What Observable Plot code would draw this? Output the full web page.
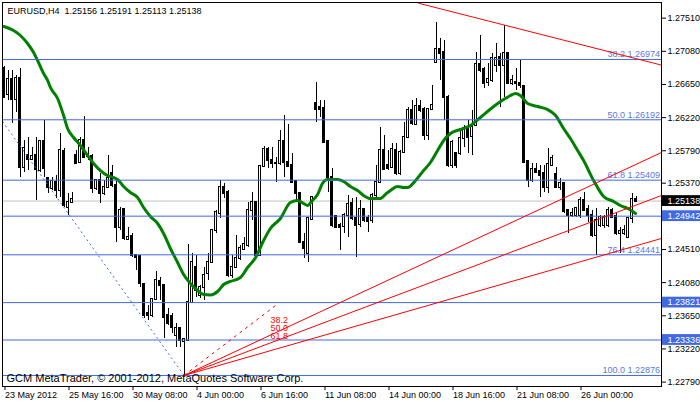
<!DOCTYPE html>
<html><head><meta charset="utf-8">
<script src="https://cdn.jsdelivr.net/npm/d3@7"></script>
<script src="https://cdn.jsdelivr.net/npm/@observablehq/plot@0.6"></script>
<style>html,body{margin:0;padding:0;background:#fff;} #chart svg{display:block;}</style>
</head><body><div id="chart"></div>
<script>
// EURUSD H4 candles, bar index 0 = 23 May 2012 00:00
const open = [1.26853,1.26520,1.26714,1.26451,1.26723,1.25577,1.25729,1.25681,1.25729,1.25534,
1.25910,1.25435,1.25305,1.25383,1.25275,1.25785,1.25059,1.25119,1.25729,1.25642,
1.25923,1.25716,1.25720,1.25296,1.25405,1.25232,1.25318,1.25491,1.25340,1.24799,
1.25024,1.24635,1.24678,1.24432,1.24419,1.24056,1.23675,1.23654,1.23857,1.24095,
1.24043,1.23654,1.23641,1.23394,1.23481,1.23312,1.23330,1.23827,1.24281,1.23913,
1.24021,1.24194,1.24345,1.24756,1.24972,1.25309,1.25253,1.24173,1.24281,1.24389,
1.24505,1.24562,1.25016,1.25115,1.24432,1.25586,1.25807,1.25664,1.25621,1.25621,
1.25910,1.25642,1.25599,1.25392,1.25240,1.24605,1.24462,1.24894,1.26399,1.26347,
1.26334,1.25915,1.25448,1.24938,1.24821,1.24808,1.24951,1.25102,1.24916,1.24834,
1.25024,1.24907,1.24886,1.25210,1.25383,1.25794,1.25599,1.25577,1.25794,1.25491,
1.25772,1.25967,1.26312,1.26131,1.26364,1.26321,1.25988,1.26321,1.26939,1.27099,
1.27060,1.26485,1.25599,1.25750,1.25750,1.25945,1.26075,1.25975,1.26118,1.26909,
1.26840,1.26680,1.26701,1.26896,1.27004,1.26896,1.27056,1.26667,1.26680,1.26658,
1.26624,1.25651,1.25405,1.25543,1.25521,1.25491,1.25318,1.25599,1.25482,1.25318,
1.25361,1.25016,1.24951,1.24951,1.24951,1.25145,1.25024,1.24951,1.24691,1.24821,
1.24821,1.24821,1.25016,1.24938,1.24713,1.24713,1.24670,1.24907,1.25156];
const high = [1.26883,1.26831,1.26831,1.26766,1.26853,1.25923,1.25967,1.25837,1.25967,1.25923,
1.26183,1.25448,1.25448,1.25469,1.26010,1.25815,1.25240,1.25253,1.25794,1.25967,
1.26235,1.25837,1.25742,1.25413,1.25491,1.25405,1.25729,1.25599,1.25405,1.25059,
1.25037,1.24799,1.24713,1.24445,1.24432,1.24064,1.23783,1.23879,1.24229,1.24151,
1.24056,1.23740,1.23675,1.23546,1.23502,1.23351,1.24575,1.24454,1.24432,1.24043,
1.24281,1.24454,1.24765,1.25016,1.25405,1.25370,1.25275,1.24432,1.24691,1.24562,
1.24670,1.25124,1.25253,1.25124,1.25599,1.25846,1.25837,1.25837,1.25707,1.26053,
1.26248,1.26131,1.25750,1.25405,1.25253,1.24713,1.24929,1.25188,1.26680,1.26442,
1.26442,1.25923,1.25556,1.24951,1.24843,1.24972,1.25210,1.25167,1.25188,1.25145,
1.25037,1.24951,1.25232,1.25599,1.26096,1.25988,1.25794,1.25880,1.25880,1.25794,
1.26161,1.26356,1.26442,1.26464,1.26442,1.26356,1.26334,1.26637,1.27458,1.27242,
1.27220,1.26507,1.25923,1.25772,1.26053,1.26118,1.26183,1.26312,1.27069,1.27285,
1.26874,1.26918,1.27047,1.27186,1.27047,1.27415,1.27069,1.26766,1.26853,1.26961,
1.26637,1.25664,1.25621,1.25629,1.25599,1.25599,1.25815,1.25729,1.25577,1.25426,
1.25383,1.25024,1.25037,1.25059,1.25188,1.25253,1.25080,1.25016,1.25037,1.24951,
1.24951,1.25059,1.25037,1.24972,1.24799,1.24821,1.24929,1.25232,1.25191];
const low = [1.26464,1.26442,1.26139,1.26291,1.25448,1.25513,1.25534,1.25664,1.25145,1.25513,
1.25448,1.25232,1.25275,1.25167,1.25188,1.25059,1.24951,1.25119,1.25621,1.25621,
1.25707,1.25664,1.25232,1.25275,1.25102,1.25210,1.25309,1.25318,1.24605,1.24756,
1.24626,1.24626,1.24410,1.24237,1.24021,1.23610,1.23589,1.23632,1.23848,1.23848,
1.23351,1.23524,1.23416,1.23243,1.23243,1.22876,1.23321,1.23814,1.23892,1.23870,
1.23848,1.24108,1.24324,1.24713,1.24907,1.25167,1.24151,1.24129,1.24259,1.24367,
1.24497,1.24540,1.24886,1.24410,1.24419,1.25577,1.25556,1.25556,1.25383,1.25599,
1.25448,1.25577,1.25361,1.25145,1.24583,1.24389,1.24345,1.24886,1.26161,1.26226,
1.25880,1.25253,1.24799,1.24778,1.24497,1.24713,1.24670,1.24886,1.24410,1.24799,
1.24864,1.24734,1.24843,1.25188,1.25361,1.25534,1.25534,1.25556,1.25469,1.25469,
1.25750,1.25945,1.26118,1.26118,1.26291,1.25923,1.25923,1.26312,1.26939,1.26701,
1.26183,1.25577,1.25556,1.25556,1.25729,1.25837,1.25750,1.25729,1.26105,1.26810,
1.26593,1.26624,1.26680,1.26810,1.26356,1.26485,1.26658,1.26637,1.26572,1.26593,
1.25621,1.25318,1.25383,1.25491,1.25188,1.25253,1.25232,1.25586,1.25296,1.25275,
1.24972,1.24713,1.24929,1.24929,1.24907,1.25007,1.24864,1.24670,1.24432,1.24799,
1.24778,1.24799,1.24920,1.24691,1.24454,1.24691,1.24661,1.24843,1.25113];
const close = [1.26485,1.26714,1.26451,1.26723,1.25577,1.25815,1.25677,1.25716,1.25543,1.25910,
1.25556,1.25309,1.25392,1.25275,1.25794,1.25080,1.25124,1.25154,1.25629,1.25923,
1.25707,1.25724,1.25296,1.25405,1.25232,1.25318,1.25426,1.25340,1.24799,1.25016,
1.24648,1.24670,1.24432,1.24410,1.24064,1.23654,1.23649,1.23857,1.24108,1.24043,
1.23632,1.23546,1.23502,1.23481,1.23330,1.23338,1.23827,1.24345,1.23978,1.24021,
1.24173,1.24345,1.24756,1.24994,1.25309,1.25240,1.24173,1.24281,1.24389,1.24518,
1.24570,1.25016,1.25124,1.24432,1.25586,1.25802,1.25664,1.25621,1.25625,1.25910,
1.25642,1.25590,1.25383,1.25232,1.24605,1.24518,1.24907,1.25180,1.26321,1.26330,
1.25902,1.25448,1.24821,1.24799,1.24799,1.24951,1.25093,1.24907,1.24821,1.25024,
1.24886,1.24877,1.25210,1.25383,1.25794,1.25543,1.25556,1.25802,1.25491,1.25772,
1.25967,1.26312,1.26139,1.26364,1.26312,1.25988,1.26321,1.26377,1.27099,1.27047,
1.26485,1.25599,1.25902,1.25599,1.25945,1.26075,1.25967,1.26096,1.26909,1.26831,
1.26667,1.26710,1.26982,1.26982,1.26896,1.27056,1.26667,1.26701,1.26658,1.26637,
1.25642,1.25405,1.25543,1.25513,1.25469,1.25318,1.25608,1.25686,1.25318,1.25370,
1.25007,1.24951,1.24972,1.25037,1.25145,1.25016,1.24951,1.24691,1.24886,1.24929,
1.24929,1.25016,1.24929,1.24713,1.24743,1.24756,1.24907,1.25154,1.25138];

// moving average (green), read at bar positions
const maBar = [0,2.4,4.1,5.9,7.4,8.4,9.9,10.9,11.6,13.4,14.9,15.9,17.4,19.1,20.9,22.4,24.1,25.9,27.4,28.4,29.9,31.6,33.4,34.9,36.6,38.4,39.9,41.6,43.4,44.9,46.6,48.4,49.9,51.6,53.4,54.9,56.6,59.1,60.9,62.9,64.9,66.6,69.1,71.6,73.4,74.9,75.9,77.1,78.4,79.6,80.9,83.4,84.9,86.6,88.4,89.9,91.6,94.1,95.6,96.6,98.4,99.9,100.9,102.9,104.9,106.6,108.4,109.9,111.6,114.1,116.6,119.1,122.4,124.9,126.6,127.9,129.1,130.9,133.4,135.9,137.9,139.9,141.6,143.4,144.9,147.4,149.9,152.4,154.1,155.9,157.9];
const maVal = [1.27402,1.27350,1.27285,1.27181,1.27065,1.26961,1.26792,1.26702,1.26611,1.26468,1.26248,1.26079,1.25962,1.25859,1.25729,1.25625,1.25534,1.25469,1.25444,1.25418,1.25327,1.25249,1.25184,1.25054,1.24938,1.24847,1.24717,1.24523,1.24341,1.24186,1.24069,1.23978,1.23926,1.23920,1.23965,1.24056,1.24095,1.24147,1.24276,1.24406,1.24626,1.24782,1.24912,1.25119,1.25145,1.25106,1.25080,1.25145,1.25223,1.25366,1.25418,1.25418,1.25392,1.25327,1.25275,1.25210,1.25171,1.25171,1.25236,1.25275,1.25327,1.25314,1.25314,1.25405,1.25534,1.25638,1.25794,1.25923,1.26014,1.26066,1.26118,1.26222,1.26364,1.26455,1.26507,1.26533,1.26507,1.26403,1.26364,1.26325,1.26248,1.26079,1.25949,1.25794,1.25664,1.25405,1.25197,1.25132,1.25080,1.25041,1.24977];

// Fibonacci retracement levels
const fiboPct = ["38.2","50.0","61.8","76.4","100.0"];
const fiboLevels = [1.26974,1.26192,1.25409,1.24441,1.22876];
const fiboDiagBar = [-0.375,45];
const fiboDiagPrice = [1.26170,1.22876];
// horizontal lines with price labels
const hLevels = [1.24942,1.23821,1.23336];
const bid = 1.25138;
// Fibonacci fan
const fanOriginBar = 45, fanOriginPrice = 1.22876;
const fanEndBar = 164.375;
const fanEndPrices = [1.25768,1.25210,1.24653];
const fanBaseEnd = [67.9,1.23784];
const fanLabels = ["38.2","50.0","61.8"];
const fanLabelBar = 66.6;
const fanLabelPrices = [1.23563,1.23447,1.23343];
// descending trend line
const trendBars = [103.6,164.375];
const trendPrices = [1.27704,1.26901];
// axes
const yTicks = [1.27510,1.27080,1.26650,1.26220,1.25790,1.25370,1.24510,1.24080,1.23650,1.23220,1.22790];
const xTickBars = [0,16,32,48,64,80,96,112,128,144];
const xTickLabels = ["23 May 2012","25 May 16:00","30 May 08:00","4 Jun 00:00","6 Jun 16:00","11 Jun 08:00","14 Jun 00:00","18 Jun 16:00","21 Jun 08:00","26 Jun 00:00"];
const title = "EURUSD,H4\u00a0\u00a01.25156 1.25191 1.25113 1.25138";
const copyright = "GCM MetaTrader, \u00a9 2001-2012, MetaQuotes Software Corp.";

const bars = open.map((o,i)=>({i,o,h:high[i],l:low[i],c:close[i]}));
const ma = maBar.map((b,i)=>({b,v:maVal[i]}));
const fan = fanEndPrices.map(p=>({x1:fanOriginBar,y1:fanOriginPrice,x2:fanEndBar,y2:p}));
const boxes = [{v:bid,bg:"#000"}].concat(hLevels.map(v=>({v,bg:"#4169e1"})));
const BLUE = "#4169e1";
const FONT = "'Liberation Sans', Arial, sans-serif";

const chart = Plot.plot({
  width:700, height:402,
  marginLeft:2, marginRight:39, marginTop:2, marginBottom:16,
  style:{fontFamily:FONT, fontSize:"9px", background:"#fff", color:"#000"},
  x:{domain:[-0.375,164.375], axis:null},
  y:{domain:[1.22733,1.27713], axis:null},
  marks:[
    Plot.ruleY([bid],{stroke:"#c0c0c0"}),
    Plot.ruleX(bars,{x:"i",y1:"l",y2:"h",stroke:"#000",shapeRendering:"crispEdges"}),
    Plot.rect(bars,{x1:d=>d.i-0.25,x2:d=>d.i+0.25,y1:"o",y2:"c",insetTop:-0.5,insetBottom:-0.5,
      fill:d=>d.c<d.o?"#000":"#fff",stroke:"#000",shapeRendering:"crispEdges"}),
    Plot.line(ma,{x:"b",y:"v",stroke:"#008000",strokeWidth:3,curve:"monotone-x"}),
    Plot.ruleY(fiboLevels,{stroke:BLUE}),
    Plot.ruleY(hLevels,{stroke:BLUE}),
    Plot.link([0],{x1:fiboDiagBar[0],y1:fiboDiagPrice[0],x2:fiboDiagBar[1],y2:fiboDiagPrice[1],stroke:BLUE,strokeDasharray:"2,3"}),
    Plot.text(fiboLevels,{x:164.0,y:d=>d,text:(d,i)=>fiboPct[i]+" "+d.toFixed(5),textAnchor:"end",lineAnchor:"bottom",dy:-2,fill:"#5a78e6"}),
    Plot.link(fan,{x1:"x1",y1:"y1",x2:"x2",y2:"y2",stroke:"#ff0000"}),
    Plot.link([0],{x1:fanOriginBar,y1:fanOriginPrice,x2:fanBaseEnd[0],y2:fanBaseEnd[1],stroke:"#ff0000",strokeDasharray:"3,4"}),
    Plot.text(fanLabels,{x:fanLabelBar,y:(d,i)=>fanLabelPrices[i],text:d=>d,textAnchor:"start",lineAnchor:"bottom",fill:"#ff0000"}),
    Plot.link([0],{x1:trendBars[0],y1:trendPrices[0],x2:trendBars[1],y2:trendPrices[1],stroke:"#ff0000"}),
    Plot.frame({stroke:"#000",shapeRendering:"crispEdges"}),
    Plot.axisY({ticks:yTicks,anchor:"right",tickSize:4,tickPadding:2,tickFormat:d=>d.toFixed(5),label:null}),
    Plot.axisX({ticks:xTickBars,anchor:"bottom",tickSize:4,tickPadding:1,tickFormat:d=>xTickLabels[xTickBars.indexOf(d)],textAnchor:"start",dx:1,label:null}),
    Plot.rect(boxes,{x1:164.6,x2:176,y1:d=>d.v-0.0007,y2:d=>d.v+0.0007,fill:"bg"}),
    Plot.text(boxes,{x:165.9,y:"v",text:d=>d.v.toFixed(5),fill:"#fff",textAnchor:"start"}),
    Plot.text([title],{frameAnchor:"top-left",dx:5,dy:5.5,lineAnchor:"top",text:d=>d}),
    Plot.text([copyright],{frameAnchor:"bottom-left",dx:4,dy:-4.5,lineAnchor:"bottom",text:d=>d,fontSize:11})
  ]
});
document.getElementById("chart").appendChild(chart);
</script>
</body></html>
